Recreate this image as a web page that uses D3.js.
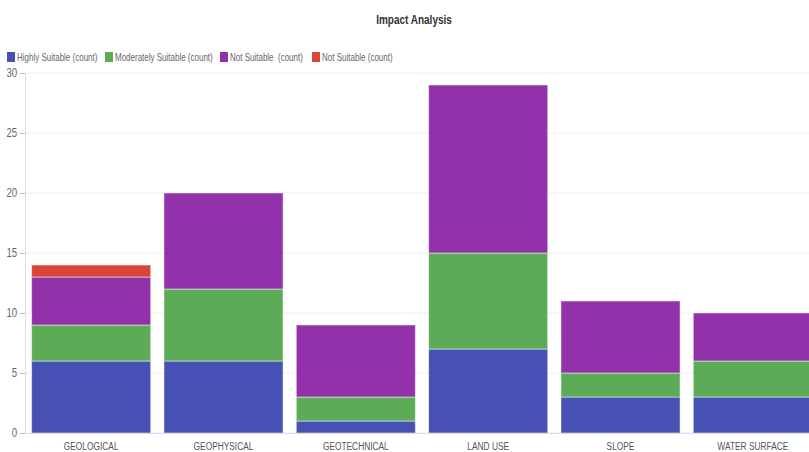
<!DOCTYPE html>
<html>
<head>
<meta charset="utf-8">
<script src="https://cdn.jsdelivr.net/npm/d3@7"></script>
<style>
  body { margin: 0; background: #fff; overflow: hidden; }
  text { font-family: "Liberation Sans", Arial, sans-serif; }
</style>
</head>
<body>
<div id="chart"></div>
<script>
// Data
const categories = ["GEOLOGICAL", "GEOPHYSICAL", "GEOTECHNICAL", "LAND USE", "SLOPE", "WATER SURFACE"];
const seriesNames = ["Highly Suitable (count)", "Moderately Suitable (count)", "Not Suitable  (count)", "Not Suitable (count)"];
const highly = [6, 6, 1, 7, 3, 3];
const moderately = [3, 6, 2, 8, 2, 3];
const notSuitableA = [4, 8, 6, 14, 6, 4];
const notSuitableB = [1, 0, 0, 0, 0, 0];
const yTicks = [0, 5, 10, 15, 20, 25, 30];
const colors = ["#4751b3", "#5dab57", "#9231a9", "#db4439"];

const W = 809, H = 452;
const squeeze = 0.8; // the original font is a condensed face
let margin = {top: 73, right: -10, bottom: 19, left: 25};
let width = W - margin.left - margin.right;
let height = H - margin.top - margin.bottom;

let root = d3.select("#chart").append("svg")
    .attr("width", W)
    .attr("height", H);

let svg = root.append("g")
    .attr("transform", `translate(${margin.left}, ${margin.top})`);

// Title
root.append("text")
    .attr("transform", `translate(414, 24) scale(${squeeze}, 1)`)
    .style("text-anchor", "middle")
    .style("font-size", "12.5px")
    .style("font-weight", "bold")
    .style("fill", "#333")
    .text("Impact Analysis");

// Build table for stacking
const table = categories.map((c, i) => ({
    cat: c, s0: highly[i], s1: moderately[i], s2: notSuitableA[i], s3: notSuitableB[i]
}));
const stack = d3.stack().keys(["s0", "s1", "s2", "s3"])(table);

const x = d3.scaleBand()
    .domain(categories)
    .range([0, width])
    .paddingInner(0.1)
    .paddingOuter(0.05);

const y = d3.scaleLinear()
    .domain([0, 30])
    .range([height, 0]);

// Gridlines
svg.append("g")
    .selectAll("line")
    .data(yTicks)
    .enter()
    .append("line")
    .attr("x1", 0)
    .attr("x2", width)
    .attr("y1", d => y(d))
    .attr("y2", d => y(d))
    .style("stroke", "#eeeeee");

// Y axis
const yAxis = svg.append("g")
    .call(d3.axisLeft(y).tickValues(yTicks).tickSize(5).tickPadding(3));
yAxis.select(".domain").style("stroke", "#ddd");
yAxis.selectAll(".tick line").style("stroke", "#bbb");
yAxis.selectAll("text")
    .attr("transform", `translate(-1.5, 0) scale(${squeeze}, 1)`)
    .style("font-size", "12px")
    .style("fill", "#666");

// Bars
svg.selectAll(".layer")
    .data(stack)
    .enter()
    .append("g")
    .attr("class", "layer")
    .style("fill", (d, i) => colors[i])
    .selectAll("rect")
    .data(d => d.filter(p => p[1] > p[0]))
    .enter()
    .append("rect")
    .attr("x", d => x(d.data.cat))
    .attr("y", d => y(d[1]))
    .attr("width", x.bandwidth())
    .attr("height", d => y(d[0]) - y(d[1]))
    .style("stroke", "rgba(255,255,255,0.5)")
    .style("stroke-width", 1);

// X axis
const xAxis = svg.append("g")
    .attr("transform", `translate(0, ${height})`)
    .call(d3.axisBottom(x).tickSize(0).tickPadding(9));
xAxis.select(".domain").style("stroke", "#ddd");
xAxis.selectAll("text")
    .attr("transform", `scale(${squeeze * 0.95}, 1)`)
    .style("font-size", "11px")
    .style("fill", "#555");

// Legend
const legendX = [7, 105, 220, 312];
const legend = root.append("g");
seriesNames.forEach((name, i) => {
    legend.append("rect")
        .attr("x", legendX[i])
        .attr("y", 52)
        .attr("width", 8)
        .attr("height", 10)
        .style("fill", colors[i]);
    legend.append("text")
        .attr("transform", `translate(${legendX[i] + 10}, 61) scale(${squeeze}, 1)`)
        .style("font-size", "10px")
        .style("fill", "#666")
        .style("white-space", "pre")
        .text(name);
});
</script>
</body>
</html>
